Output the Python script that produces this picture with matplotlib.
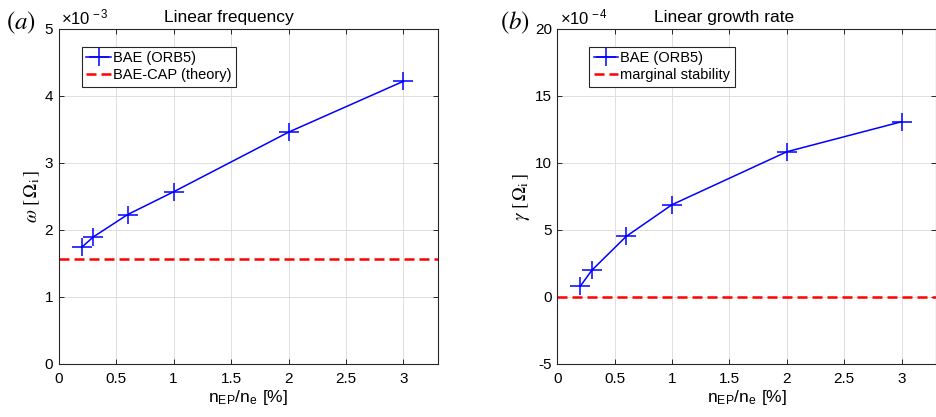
import matplotlib
matplotlib.use("Agg")
from matplotlib import pyplot as plt
from matplotlib.path import Path

plt.rcParams['font.family'] = ['Liberation Sans', 'DejaVu Sans']
plt.rcParams['mathtext.fontset'] = 'stix'

# fraction of energetic particles n_EP/n_e [%]
n_ep = [0.2, 0.3, 0.6, 1.0, 2.0, 3.0]
# linear frequency, units of 1e-3 Omega_i
omega = [1.74, 1.895, 2.23, 2.57, 3.46, 4.22]
omega_cap = 1.567
# linear growth rate, units of 1e-4 Omega_i
gamma = [0.8, 1.99, 4.52, 6.89, 10.84, 13.08]
gamma_marginal = 0.0

x_ticks = [0, 0.5, 1, 1.5, 2, 2.5, 3]
x_lim = (0, 3.3)

# plus sign, a little wider than tall like the original
plus = Path([(-1, 0), (1, 0), (0, -0.83), (0, 0.83)],
            [Path.MOVETO, Path.LINETO, Path.MOVETO, Path.LINETO])

fig = plt.figure(figsize=(9.37, 4.17), dpi=100)
ax1 = fig.add_axes([0.0626, 0.1271, 0.4048, 0.8034])
ax2 = fig.add_axes([0.5948, 0.1271, 0.4042, 0.8034])

blue = (0, 0, 1)
red = (1, 0, 0)
dark = (0.15, 0.15, 0.15)


def style(ax, ylim, yticks, title, title_x, ylabel, scale, panel, panel_x):
    ax.set_xlim(*x_lim)
    ax.set_ylim(*ylim)
    ax.set_xticks(x_ticks)
    ax.set_xticklabels([f"{t:g}" for t in x_ticks])
    ax.set_yticks(yticks)
    ax.set_yticklabels([f"{t:g}" for t in yticks])
    ax.tick_params(direction='in', top=True, right=True, length=3.5, width=0.7,
                   labelsize=11, colors=dark, labelcolor='black', pad=4)
    ax.tick_params(axis='x', pad=6)
    for s in ax.spines.values():
        s.set_color(dark)
        s.set_linewidth(0.8)
    ax.grid(True, color=(0.87, 0.87, 0.87), linewidth=0.7)
    ax.set_axisbelow(True)
    ax.set_title(title, fontsize=12.5, x=title_x, pad=5)
    ax.set_xlabel(r'n$_{\mathregular{EP}}$/n$_{\mathregular{e}}$ [%]', fontsize=12.5, labelpad=1)
    ax.set_ylabel(ylabel, fontsize=13.5, labelpad=2)
    ax.text(0.006, 1.004, r'$\mathregular{\times10^{\,%s}}$' % scale, transform=ax.transAxes,
            fontsize=12, ha='left', va='bottom')
    fig.text(panel_x, 0.945, panel, fontsize=18, ha='center', va='center')


# (a) linear frequency
ax1.plot(n_ep, omega, color=blue, linewidth=1.1, marker=plus, markersize=15,
         markeredgewidth=1.1, label='BAE (ORB5)')
ax1.axhline(omega_cap, color=red, linewidth=1.8, dashes=(4, 2), label='BAE-CAP (theory)')
style(ax1, (0, 5), [0, 1, 2, 3, 4, 5], 'Linear frequency', 0.449,
      r'$\omega\ [\,\Omega_\mathrm{i}\,]$', '-3', r'$(a)$', 0.022)

# (b) linear growth rate
ax2.plot(n_ep, gamma, color=blue, linewidth=1.1, marker=plus, markersize=15,
         markeredgewidth=1.1, label='BAE (ORB5)')
ax2.axhline(gamma_marginal, color=red, linewidth=1.8, dashes=(4, 2), label='marginal stability')
style(ax2, (-5, 20), [-5, 0, 5, 10, 15, 20], 'Linear growth rate', 0.439,
      r'$\gamma\ [\,\Omega_\mathrm{i}\,]$', '-4', r'$(b)$', 0.55)

for ax, xa in ((ax1, 0.061), (ax2, 0.084)):
    leg = ax.legend(loc='upper left', bbox_to_anchor=(xa, 0.946), borderaxespad=0,
                    fontsize=10.5, handlelength=1.7, handletextpad=0.15, borderpad=0.3,
                    labelspacing=0.2, fancybox=False, framealpha=1)
    leg.get_frame().set_edgecolor(dark)
    leg.get_frame().set_linewidth(0.8)

fig.savefig('out.png', dpi=100)
